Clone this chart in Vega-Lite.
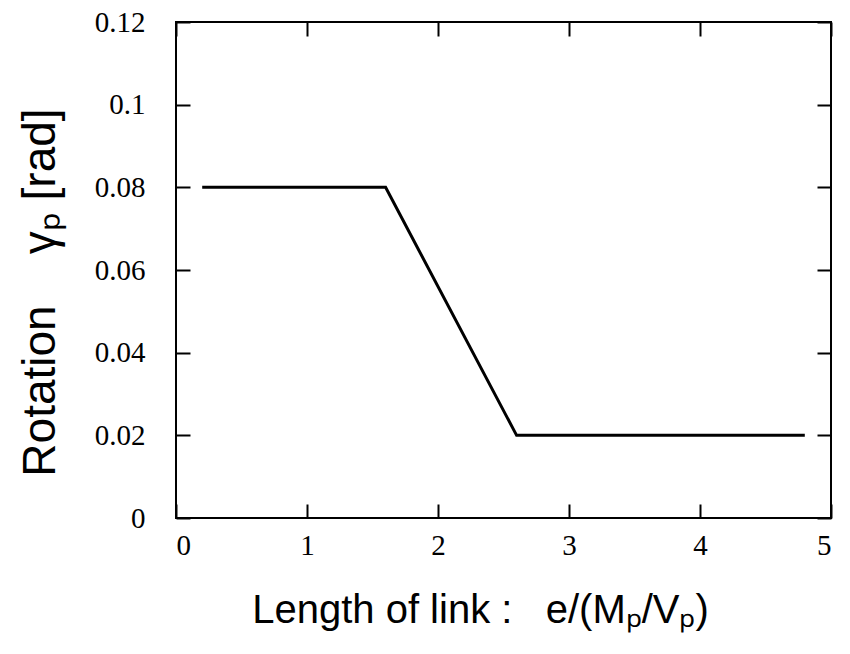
{
  "$schema": "https://vega.github.io/schema/vega-lite/v6.json",
  "width": 655,
  "height": 496,
  "autosize": {"type": "none"},
  "padding": {"left": 176, "top": 22, "right": 19, "bottom": 136},
  "background": "white",
  "config": {
    "view": {"stroke": "black", "strokeWidth": 2},
    "axis": {
      "grid": false,
      "domain": false,
      "ticks": true,
      "tickSize": -14,
      "tickWidth": 2,
      "tickColor": "black",
      "labelFont": "Liberation Serif",
      "labelFontSize": 29,
      "labelColor": "black",
      "titleFont": "Liberation Sans",
      "titleFontSize": 40,
      "titleFontWeight": "normal",
      "titleColor": "black"
    }
  },
  "data": {
    "values": [
      {"length": 0.2, "rotation": 0.08},
      {"length": 1.6, "rotation": 0.08},
      {"length": 2.6, "rotation": 0.02},
      {"length": 4.8, "rotation": 0.02}
    ]
  },
  "layer": [
    {
      "mark": {"type": "line", "color": "black", "strokeWidth": 3},
      "encoding": {
        "x": {
          "field": "length",
          "type": "quantitative",
          "scale": {"domain": [0, 5], "nice": false},
          "axis": {
            "orient": "bottom",
            "values": [0, 1, 2, 3, 4, 5],
            "labelExpr": "format(datum.value, 'd')",
            "labelFontSize": 29,
            "labelPadding": 27,
            "title": "Length of link :\u00a0\u00a0\u00a0e/(Mₚ/Vₚ)",
            "titleFontSize": 40,
            "titlePadding": 30,
            "titleX": 304,
            "titleAlign": "center"
          }
        },
        "y": {
          "field": "rotation",
          "type": "quantitative",
          "scale": {"domain": [0, 0.12], "nice": false},
          "axis": {
            "orient": "left",
            "values": [0, 0.02, 0.04, 0.06, 0.08, 0.1, 0.12],
            "labelExpr": "datum.value == 0 ? '0' : format(datum.value, '.2~f')",
            "labelFontSize": 29,
            "labelPadding": 45,
            "title": "Rotation\u00a0\u00a0\u00a0\u00a0γₚ [rad]",
            "titleFontSize": 46,
            "titlePadding": 30,
            "titleY": 270,
            "titleAlign": "center"
          }
        }
      }
    },
    {
      "mark": {"type": "line", "opacity": 0},
      "encoding": {
        "x": {
          "field": "length",
          "type": "quantitative",
          "axis": {"orient": "top", "values": [0, 1, 2, 3, 4, 5], "labels": false, "title": null}
        },
        "y": {
          "field": "rotation",
          "type": "quantitative",
          "axis": {"orient": "right", "values": [0, 0.02, 0.04, 0.06, 0.08, 0.1, 0.12], "labels": false, "title": null}
        }
      }
    }
  ],
  "resolve": {"axis": {"x": "independent", "y": "independent"}}
}
